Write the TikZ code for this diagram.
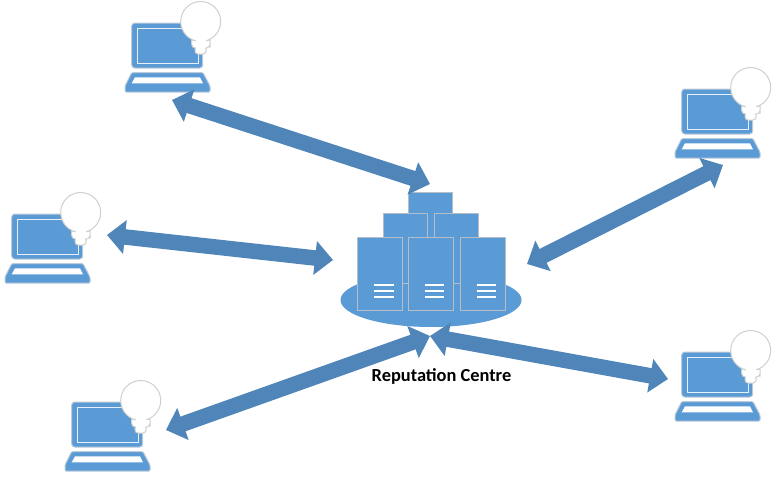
\documentclass[tikz,border=0pt]{standalone}
\usepackage{fontspec}
\setmainfont{Carlito}
\usetikzlibrary{arrows.meta}
\definecolor{fillblue}{HTML}{5B9BD5}
\definecolor{arrowblue}{HTML}{4F85B9}
\definecolor{edgegrey}{HTML}{B5BEC8}
\definecolor{bulbgrey}{HTML}{CFCFCF}
\definecolor{laptopedge}{HTML}{BCCBD9}
\tikzset{
  link/.style={draw=arrowblue,line width=15.5pt,{Triangle[length=18pt,width=33pt]}-{Triangle[length=18pt,width=33pt]}},
  serverbox/.style={fill=fillblue,draw=edgegrey,line width=1pt},
  whiteline/.style={draw=white,line width=1.3pt},
  bulbpart/.style={fill=white,draw=bulbgrey,line width=1pt},
  laptopbulb/.pic={
    \filldraw[fill=fillblue,draw=laptopedge,line width=1pt,rounded corners=3pt] (6.7,-24) -- (6.7,-69) -- (77.7,-69) -- (77.7,-24) -- cycle;
    \draw[white!85!fillblue,line width=1pt] (12,-29) -- (12,-64) -- (73,-64) -- (73,-29) -- cycle;
    \filldraw[fill=fillblue,draw=laptopedge,line width=1pt,rounded corners=1pt] (6.7,-19.3) -- (78,-19.3) -- (85,-6) -- (85,0) -- (0,0) -- (0,-6) -- cycle;
    \fill[white] (10,-14.7) -- (75,-14.7) -- (78,-8.7) -- (6.7,-8.7) -- cycle;
    \draw[bulbpart,rounded corners=3pt] (70,-46) -- (70,-38) -- (81,-38) -- (81,-46) -- cycle;
    \draw[bulbpart,rounded corners=3.5pt] (66.7,-52) [sharp corners] -- (66.7,-48) [rounded corners=3.5pt] -- (66.7,-44) -- (85,-44) -- (85,-48) [sharp corners] -- (85,-52) -- cycle;
    \draw[bulbpart] (75.7,-70.5) circle[radius=20pt];
    \fill[white] (70.5,-53) rectangle (81,-45);
    \fill[white] (71,-45.5) rectangle (80,-42);
    \coordinate (-c) at (42,-40);
  }
}
\begin{document}
\begin{tikzpicture}[x=1pt,y=-1pt]
\useasboundingbox (0,0) rectangle (777,479);
\fill[white] (0,0) rectangle (777,479);
% server farm
\fill[fillblue] (431,300) ellipse[x radius=90.5pt,y radius=27pt];
\node[serverbox,minimum width=44pt,minimum height=60pt,inner sep=0pt,anchor=north west] (srvTop) at (408,192) {};
\node[serverbox,minimum width=44.5pt,minimum height=70pt,inner sep=0pt,anchor=north west] (srvMidL) at (382.5,212.5) {};
\node[serverbox,minimum width=44.5pt,minimum height=70pt,inner sep=0pt,anchor=north west] (srvMidR) at (433.5,212.5) {};
\foreach \nm/\lx in {srvL/356.5,srvC/408,srvR/459.5}{
  \node[serverbox,minimum width=45pt,minimum height=73.5pt,inner sep=0pt,anchor=north west] (\nm) at (\lx,236.5) {};
}
\foreach \a/\b in {374/393.5,425/444,476.7/496}{
  \foreach \yy in {285,291,297}{
    \draw[whiteline] (\a,\yy) -- (\b,\yy);
  }
}
% laptops
\pic (lapA) at (125,92) {laptopbulb};
\pic (lapB) at (5,283) {laptopbulb};
\pic (lapC) at (65,471) {laptopbulb};
\pic (lapD) at (675,158) {laptopbulb};
\pic (lapE) at (675,421) {laptopbulb};
% label
\node[font=\bfseries\fontsize{18.4}{20}\selectfont,inner sep=0pt] (label) at (441.5,376.5) {Reputation Centre};
% connector ends
\coordinate (endA) at (172,100);
\coordinate (hubA) at (430,184);
\coordinate (endB) at (107,235);
\coordinate (hubB) at (333,260);
\coordinate (endD) at (723,165);
\coordinate (hubD) at (527,264);
\coordinate (endC) at (166,430);
\coordinate (hubC) at (430,336);
\coordinate (endE) at (668,379);
\coordinate (hubE) at (430,336);
\draw[link] (endA) -- (hubA);
\draw[link] (endB) -- (hubB);
\draw[link] (hubD) -- (endD);
\draw[link] (endC) -- (hubC);
\draw[link] (hubE) -- (endE);
\end{tikzpicture}
\end{document}
